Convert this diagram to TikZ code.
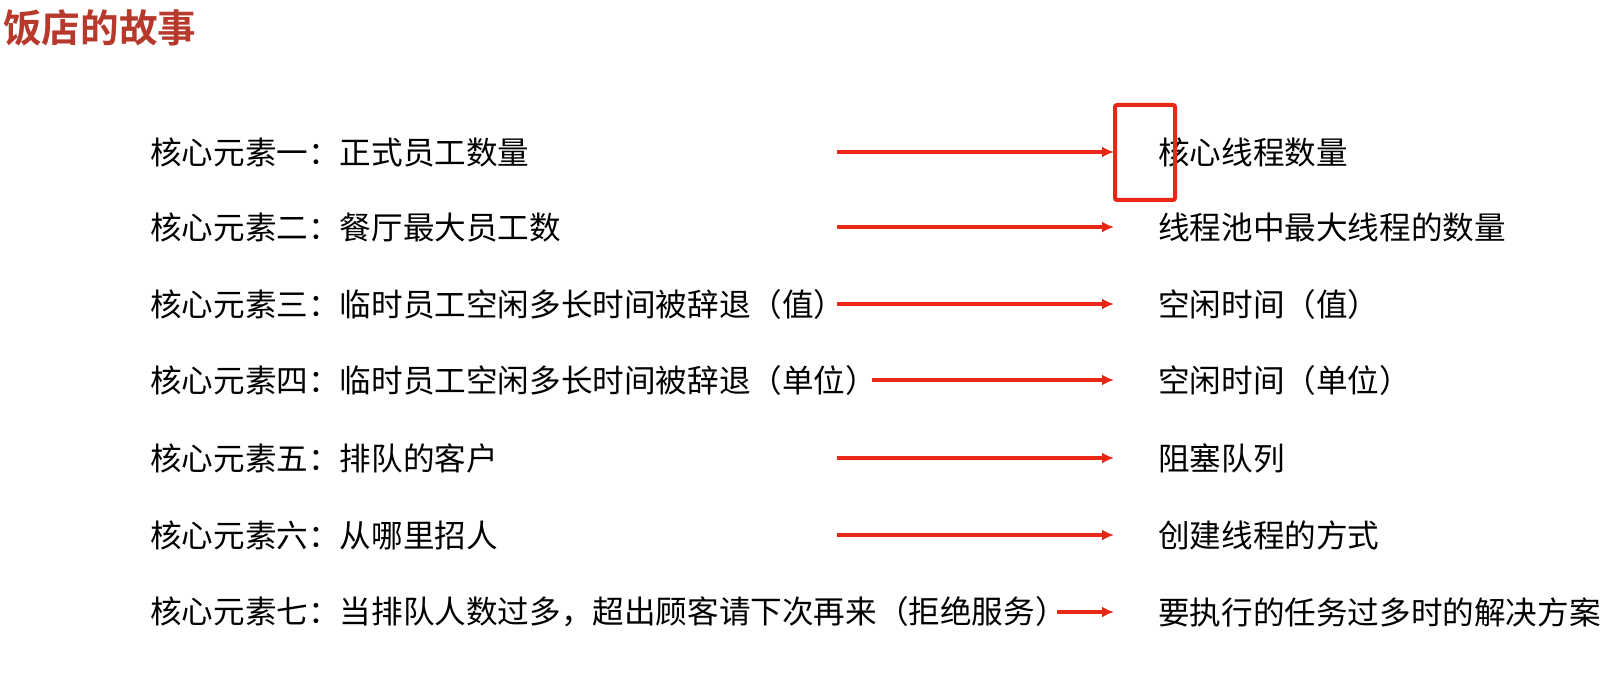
\documentclass[tikz,border=0pt]{standalone}
\usepackage{fontspec}
\newfontfamily\cjk{Noto Sans CJK SC}
\newfontfamily\cjkbold{Noto Sans CJK SC Bold}
\usetikzlibrary{arrows.meta}
\definecolor{titlered}{RGB}{183,57,44}
\definecolor{arrowred}{RGB}{234,38,20}
\begin{document}
\begin{tikzpicture}[x=1pt,y=-1pt,
  lefttext/.style={anchor=west,inner sep=0pt,font=\cjk\fontsize{31.6}{31.6}\selectfont,text=black},
  righttext/.style={anchor=west,inner sep=0pt,font=\cjk\fontsize{31.6}{31.6}\selectfont,text=black},
  redarrow/.style={draw=arrowred,line width=3.5pt,-{Latex[length=12pt,width=11pt]}},
  titletext/.style={anchor=west,inner sep=0pt,font=\cjkbold\fontsize{38.6}{38.6}\selectfont,text=titlered},
  markbox/.style={draw=arrowred,line width=4pt,rounded corners=2pt}
]
\useasboundingbox[fill=white] (0,0) rectangle (1611,695);
\node[titletext] (title) at (3,28) {饭店的故事};

\node[lefttext] (l1) at (150,152) {核心元素一：正式员工数量};
\node[lefttext] (l2) at (150,227) {核心元素二：餐厅最大员工数};
\node[lefttext] (l3) at (150,304) {核心元素三：临时员工空闲多长时间被辞退（值）};
\node[lefttext] (l4) at (150,380) {核心元素四：临时员工空闲多长时间被辞退（单位）};
\node[lefttext] (l5) at (150,458) {核心元素五：排队的客户};
\node[lefttext] (l6) at (150,535) {核心元素六：从哪里招人};
\node[lefttext] (l7) at (150,612) {核心元素七：当排队人数过多，超出顾客请下次再来（拒绝服务）};

\node[righttext] (r1) at (1158,152) {核心线程数量};
\node[righttext] (r2) at (1158,227) {线程池中最大线程的数量};
\node[righttext] (r3) at (1158,304) {空闲时间（值）};
\node[righttext] (r4) at (1158,380) {空闲时间（单位）};
\node[righttext] (r5) at (1158,458) {阻塞队列};
\node[righttext] (r6) at (1158,535) {创建线程的方式};
\node[righttext] (r7) at (1158,612) {要执行的任务过多时的解决方案};

\coordinate (s1) at (837,152);
\coordinate (s2) at (837,227);
\coordinate (s3) at (837,304);
\coordinate (s4) at (872,380);
\coordinate (s5) at (837,458);
\coordinate (s6) at (837,535);
\coordinate (s7) at (1057,612);
\foreach \i/\yy in {1/152,2/227,3/304,4/380,5/458,6/535,7/612}{
  \coordinate (e\i) at (1114,\yy);
  \draw[redarrow] (s\i) -- (e\i);
}

\node[markbox,minimum width=60pt,minimum height=95pt,anchor=north west,inner sep=0pt] (box) at (1113,103) {};
\end{tikzpicture}
\end{document}
